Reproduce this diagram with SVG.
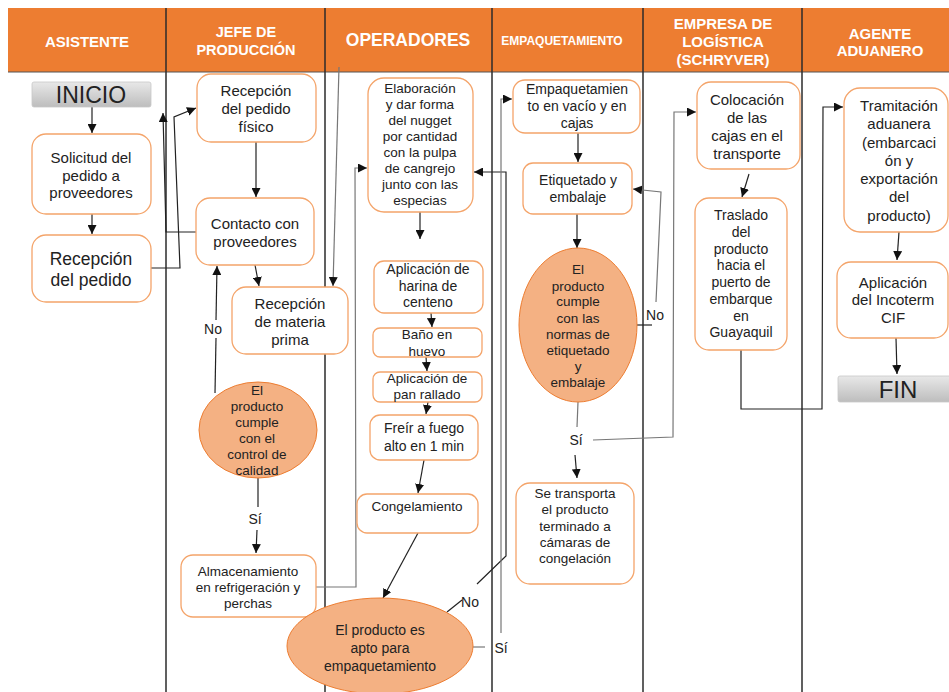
<svg xmlns="http://www.w3.org/2000/svg" width="949" height="692" viewBox="0 0 949 692">
<defs>
<linearGradient id="gg" x1="0" y1="0" x2="0" y2="1">
<stop offset="0" stop-color="#E8E8E8"/><stop offset="1" stop-color="#BDBDBD"/>
</linearGradient>
<marker id="ah" markerUnits="userSpaceOnUse" markerWidth="10" markerHeight="9" refX="9" refY="4.5" orient="auto">
<path d="M0,0 L9,4.5 L0,9 z" fill="#111"/>
</marker>
<style>
.lane{stroke:#2b2b2b;stroke-width:1.5}
.box{fill:#fff;stroke:#F4A46A;stroke-width:1.3}
.dec{fill:#F4B183;stroke:#ED7D31;stroke-width:1}
.term{fill:url(#gg);stroke:#C8C8C8;stroke-width:0.8}
text{font-family:"Liberation Sans",Arial,sans-serif;text-anchor:middle;dominant-baseline:central;fill:#222}
.h{font-weight:bold;fill:#fff;font-size:15px}
.t{font-size:13.5px}
.m{font-size:14px}
.l{font-size:15px}
.c{fill:none;stroke:#222;stroke-width:1.2}
.a{marker-end:url(#ah)}
.g{stroke:#777}
</style>
</defs>
<rect x="0" y="0" width="949" height="692" fill="#fff"/>
<g id="header">
<rect x="8" y="8" width="941" height="64" fill="#ED7D31"/>
<line x1="8" y1="72" x2="949" y2="72" stroke="#555" stroke-width="1"/>
<text class="h" x="87" y="41">ASISTENTE</text>
<text class="h" x="246" y="32" style="font-size:14.5px">JEFE DE</text>
<text class="h" x="246" y="50" style="font-size:14.5px">PRODUCCIÓN</text>
<text class="h" x="408" y="40" style="font-size:17.5px">OPERADORES</text>
<text class="h" x="562" y="41" style="font-size:12px">EMPAQUETAMIENTO</text>
<text class="h" x="723" y="23">EMPRESA DE</text>
<text class="h" x="723" y="41">LOGÍSTICA</text>
<text class="h" x="723" y="59">(SCHRYVER)</text>
<text class="h" x="880" y="33">AGENTE</text>
<text class="h" x="880" y="50">ADUANERO</text>
</g>
<g id="lanes">
<line class="lane" x1="166" y1="8" x2="166" y2="692"/>
<line class="lane" x1="325" y1="8" x2="325" y2="692"/>
<line class="lane" x1="492" y1="8" x2="492" y2="692"/>
<line class="lane" x1="643" y1="8" x2="643" y2="692"/>
<line class="lane" x1="802" y1="8" x2="802" y2="692"/>
</g>
<g id="connectors">
<path class="c a" d="M92,107 L92,133"/>
<path class="c a" d="M92,214 L92,234"/>
<path class="c a" d="M151,268 L180,268 L174,117 L196,108"/>
<path class="c a" d="M196,232 L166,232 L163,113"/>
<path class="c a" d="M256,142 L256,197"/>
<path class="c a" d="M255,265 L259,286"/>
<path class="c a g" d="M339,67 L333,286"/>
<path class="c" d="M215,393 L216,338"/>
<path class="c a" d="M216,320 L217,266"/>
<text class="m" x="213" y="329">No</text>
<path class="c" d="M258,478 L258,507"/>
<text class="m" x="255" y="519">Sí</text>
<path class="c a" d="M257,530 L256,553"/>
<path class="c a g" d="M316,587 L356,587 L355,168 L367,168"/>
<path class="c a" d="M420,212 L420,239"/>
<path class="c a" d="M431,313 L432,327"/>
<path class="c a" d="M426,357 L427,371"/>
<path class="c a" d="M428,402 L426,414"/>
<path class="c a" d="M424,460 L418,493"/>
<path class="c a" d="M418,533 L383,598"/>
<path class="c" d="M447,612 L462,600"/>
<text class="m" x="470" y="602">No</text>
<path class="c a" d="M477,584 L506,556 L506,172 L474,172"/>
<path class="c g" d="M473,647 L485,647"/>
<text class="m" x="501" y="648">Sí</text>
<path class="c a g" d="M501,633 L501,99 L512,99"/>
<path class="c a" d="M578,133 L578,162"/>
<path class="c a" d="M577,214 L577,248"/>
<path class="c" d="M637,325 L652,325"/>
<text class="m" x="655" y="315">No</text>
<path class="c a g" d="M656,302 L661,192 L633,189"/>
<path class="c g" d="M578,402 L577,427"/>
<text class="m" x="576" y="440">Sí</text>
<path class="c a" d="M575,455 L577,478"/>
<path class="c a g" d="M593,440 L673,437 L674,112 L696,112"/>
<path class="c a" d="M749,174 L742,197"/>
<path class="c a" d="M741,350 L741,409 L822,409 L823,107 L843,107"/>
<path class="c a" d="M899,232 L897,260"/>
<path class="c a" d="M896,338 L897,374"/>
</g>
<g id="inicio">
<rect class="term" x="32" y="82" width="119" height="25" rx="2"/>
<text x="91" y="95" style="font-size:23px">INICIO</text>
</g>
<g id="solicitud">
<rect class="box" x="32" y="134" width="119" height="80" rx="14"/>
<text class="l" x="91" y="157">Solicitud del</text>
<text class="l" x="91" y="175">pedido a</text>
<text class="l" x="91" y="192">proveedores</text>
</g>
<g id="recepcion-pedido">
<rect class="box" x="32" y="235" width="119" height="67" rx="14"/>
<text x="91" y="259" style="font-size:17.5px">Recepción</text>
<text x="91" y="280" style="font-size:17.5px">del pedido</text>
</g>
<g id="recepcion-fisico">
<rect class="box" x="197" y="74" width="119" height="68" rx="14"/>
<text class="l" x="256" y="90">Recepción</text>
<text class="l" x="256" y="108">del pedido</text>
<text class="l" x="256" y="126">físico</text>
</g>
<g id="contacto">
<rect class="box" x="196" y="198" width="118" height="67" rx="14"/>
<text class="l" x="255" y="223">Contacto con</text>
<text class="l" x="255" y="241">proveedores</text>
</g>
<g id="materia-prima">
<rect class="box" x="232" y="287" width="116" height="67" rx="14"/>
<text class="l" x="290" y="303">Recepción</text>
<text class="l" x="290" y="321">de materia</text>
<text class="l" x="290" y="339">prima</text>
</g>
<g id="control-calidad">
<ellipse class="dec" cx="258" cy="430" rx="59" ry="48"/>
<text class="t" x="257" y="390">El</text>
<text class="t" x="257" y="406">producto</text>
<text class="t" x="257" y="422">cumple</text>
<text class="t" x="257" y="438">con el</text>
<text class="t" x="257" y="454">control de</text>
<text class="t" x="257" y="470">calidad</text>
</g>
<g id="almacenamiento">
<rect class="box" x="181" y="555" width="135" height="62" rx="12"/>
<text class="t" x="248" y="571">Almacenamiento</text>
<text class="t" x="248" y="587">en refrigeración y</text>
<text class="t" x="248" y="603">perchas</text>
</g>
<g id="elaboracion">
<rect class="box" x="368" y="78" width="105" height="134" rx="16"/>
<text class="t" x="420" y="88">Elaboración</text>
<text class="t" x="420" y="104">y dar forma</text>
<text class="t" x="420" y="120">del nugget</text>
<text class="t" x="420" y="136">por cantidad</text>
<text class="t" x="420" y="152">con la pulpa</text>
<text class="t" x="420" y="168">de cangrejo</text>
<text class="t" x="420" y="184">junto con las</text>
<text class="t" x="420" y="200">especias</text>
</g>
<g id="harina">
<rect class="box" x="374" y="261" width="109" height="52" rx="10"/>
<text class="m" x="428" y="269">Aplicación de</text>
<text class="m" x="428" y="286">harina de</text>
<text class="m" x="428" y="302">centeno</text>
</g>
<g id="huevo">
<rect class="box" x="373" y="328" width="109" height="29" rx="7"/>
<text class="t" x="427" y="334">Baño en</text>
<text class="t" x="427" y="351">huevo</text>
</g>
<g id="pan">
<rect class="box" x="373" y="372" width="109" height="30" rx="7"/>
<text class="t" x="427" y="378">Aplicación de</text>
<text class="t" x="427" y="394">pan rallado</text>
</g>
<g id="freir">
<rect class="box" x="370" y="415" width="108" height="45" rx="10"/>
<text class="m" x="424" y="428">Freír a fuego</text>
<text class="m" x="424" y="446">alto en 1 min</text>
</g>
<g id="congelamiento">
<rect class="box" x="357" y="494" width="121" height="39" rx="10"/>
<text class="t" x="417" y="506">Congelamiento</text>
</g>
<g id="apto">
<ellipse class="dec" cx="380" cy="646" rx="93" ry="48"/>
<text class="m" x="380" y="630">El producto es</text>
<text class="m" x="380" y="648">apto para</text>
<text class="m" x="380" y="666">empaquetamiento</text>
</g>
<g id="empaquetamiento">
<rect class="box" x="513" y="80" width="127" height="53" rx="12"/>
<text class="m" x="577" y="89">Empaquetamien</text>
<text class="m" x="577" y="106">to en vacío y en</text>
<text class="m" x="577" y="123">cajas</text>
</g>
<g id="etiquetado">
<rect class="box" x="523" y="163" width="109" height="51" rx="10"/>
<text class="m" x="578" y="180">Etiquetado y</text>
<text class="m" x="578" y="197">embalaje</text>
</g>
<g id="normas">
<ellipse class="dec" cx="578" cy="325" rx="59" ry="77"/>
<text class="t" x="578" y="269">El</text>
<text class="t" x="578" y="286">producto</text>
<text class="t" x="578" y="301">cumple</text>
<text class="t" x="578" y="318">con las</text>
<text class="t" x="578" y="334">normas de</text>
<text class="t" x="578" y="350">etiquetado</text>
<text class="t" x="578" y="366">y</text>
<text class="t" x="578" y="382">embalaje</text>
</g>
<g id="transporta">
<rect class="box" x="516" y="483" width="118" height="101" rx="14"/>
<text class="t" x="575" y="493">Se transporta</text>
<text class="t" x="575" y="509">el producto</text>
<text class="t" x="575" y="526">terminado a</text>
<text class="t" x="575" y="542">cámaras de</text>
<text class="t" x="575" y="558">congelación</text>
</g>
<g id="colocacion">
<rect class="box" x="697" y="82" width="103" height="87" rx="14"/>
<text class="l" x="747" y="99">Colocación</text>
<text class="l" x="747" y="117">de las</text>
<text class="l" x="747" y="135">cajas en el</text>
<text class="l" x="747" y="153">transporte</text>
</g>
<g id="traslado">
<rect class="box" x="695" y="198" width="92" height="152" rx="14"/>
<text class="m" x="741" y="215">Traslado</text>
<text class="m" x="741" y="232">del</text>
<text class="m" x="741" y="249">producto</text>
<text class="m" x="741" y="265">hacia el</text>
<text class="m" x="741" y="282">puerto de</text>
<text class="m" x="741" y="299">embarque</text>
<text class="m" x="741" y="316">en</text>
<text class="m" x="741" y="332">Guayaquil</text>
</g>
<g id="tramitacion">
<rect class="box" x="844" y="88" width="104" height="144" rx="16"/>
<text class="l" x="899" y="105">Tramitación</text>
<text class="l" x="899" y="123">aduanera</text>
<text class="l" x="899" y="142">(embarcaci</text>
<text class="l" x="899" y="160">ón y</text>
<text class="l" x="899" y="178">exportación</text>
<text class="l" x="899" y="196">del</text>
<text class="l" x="899" y="215">producto)</text>
</g>
<g id="incoterm">
<rect class="box" x="837" y="262" width="111" height="76" rx="14"/>
<text class="l" x="893" y="282">Aplicación</text>
<text class="l" x="893" y="299">del Incoterm</text>
<text class="l" x="893" y="317">CIF</text>
</g>
<g id="fin">
<rect class="term" x="838" y="376" width="113" height="26" rx="2"/>
<text x="898" y="389" style="font-size:24px">FIN</text>
</g>
</svg>
